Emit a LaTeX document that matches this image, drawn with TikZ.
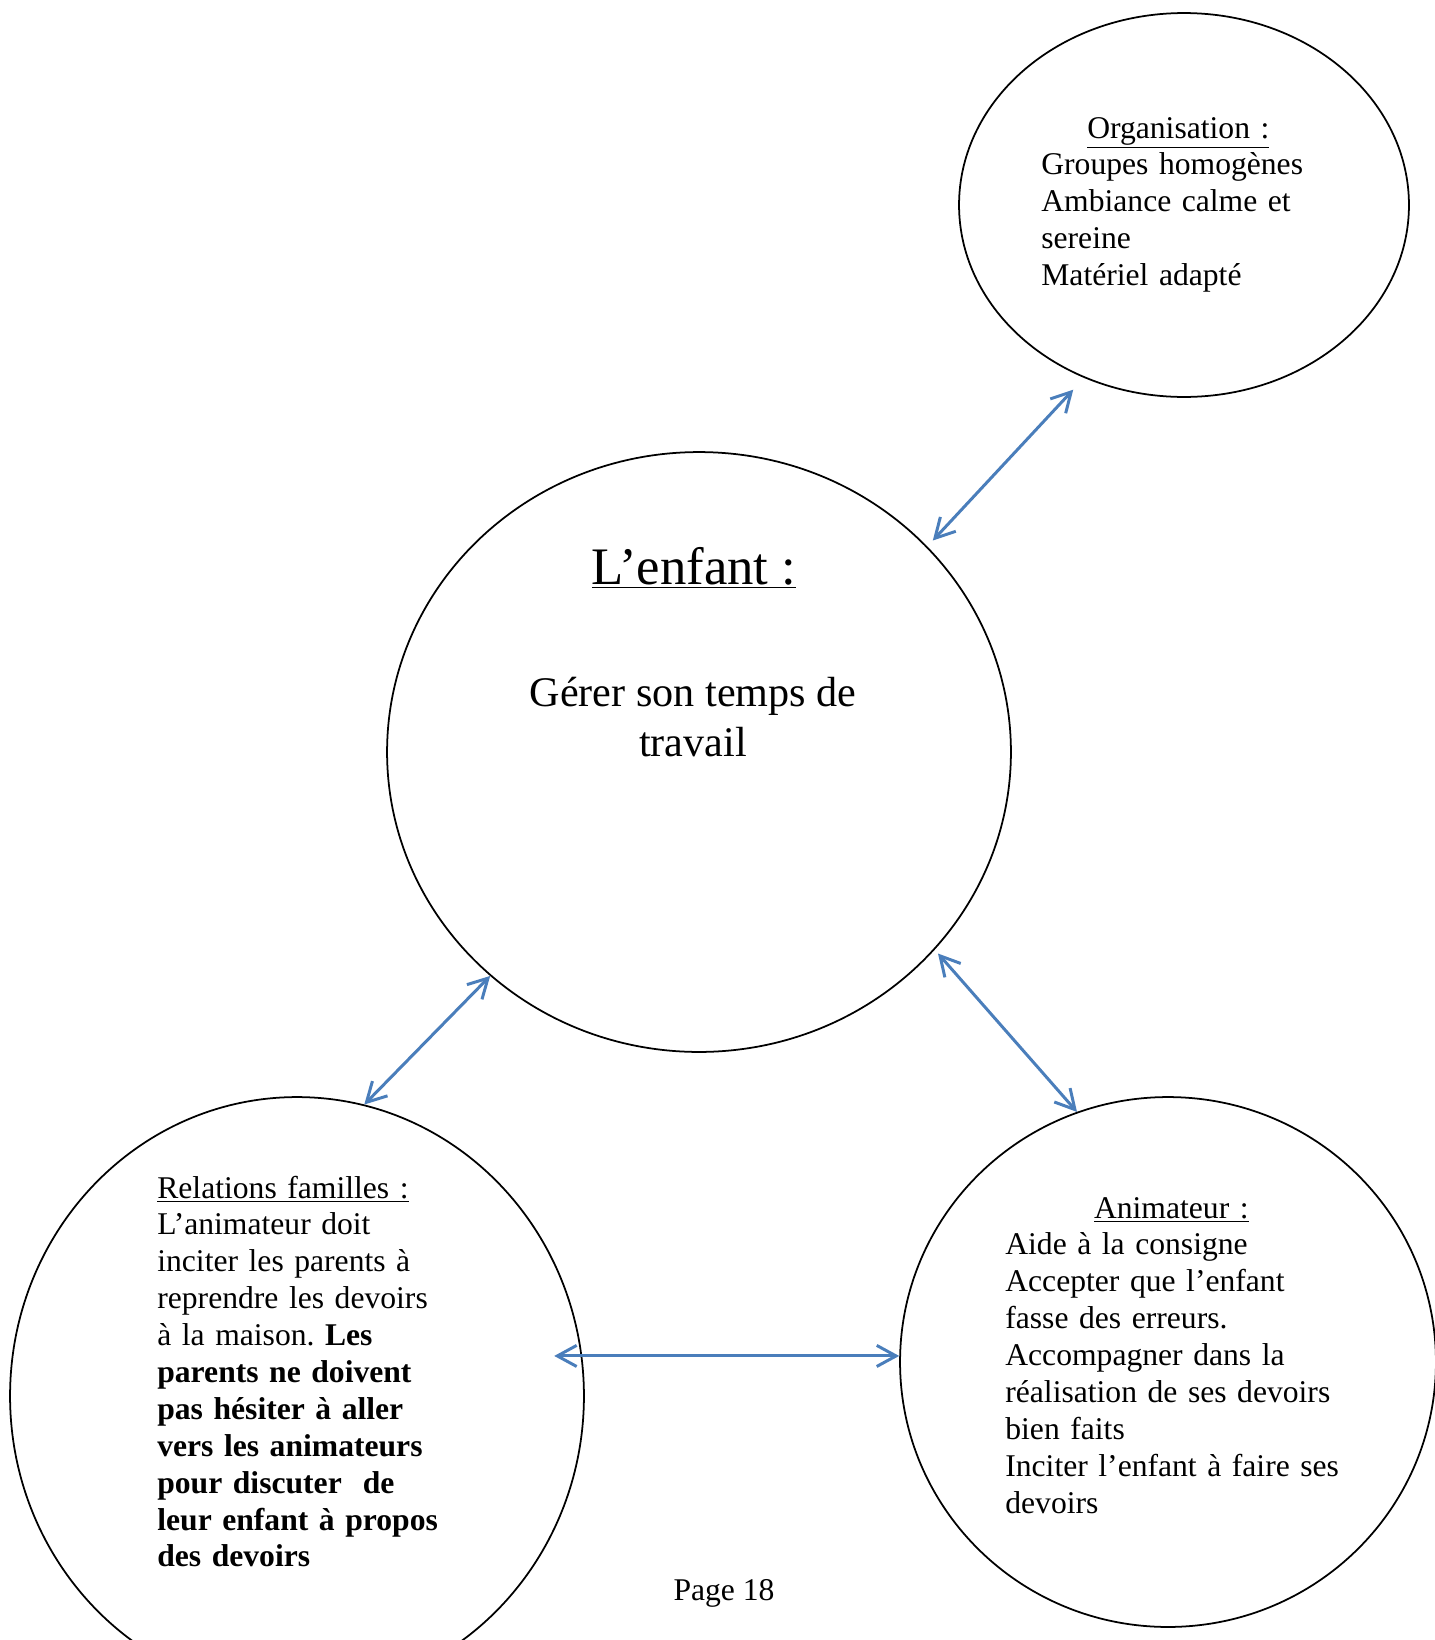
\documentclass[tikz,border=0pt]{standalone}
\usepackage{fontspec}
\setmainfont{Liberation Serif}
\usetikzlibrary{shapes.geometric,arrows.meta}
\definecolor{linkblue}{HTML}{4A7EBB}
\frenchspacing

\begin{document}
\begin{tikzpicture}[x=0.02cm,y=-0.02cm,
                    bubble/.style={draw,ellipse,line width=1pt,inner sep=0pt},
                    link/.style={{Straight Barb[length=11pt,width=12pt]}-{Straight Barb[length=11pt,width=12pt]},linkblue,line width=1.7pt},
                    bubble text/.style={inner sep=0pt,anchor=base west,align=left,font=\fontsize{18}{21}\selectfont}]
    \useasboundingbox (0,0) rectangle (1435,1640);

    \node[bubble,minimum width=9cm,minimum height=7.68cm] (orga) at (1184,205) {};
    \node[bubble,minimum width=12.48cm,minimum height=12cm] (enfant) at (699,752) {};
    \node[bubble,minimum width=11.48cm,minimum height=11.96cm] (famille) at (297,1396) {};
    \node[bubble,minimum width=10.72cm,minimum height=10.6cm] (anim) at (1168,1362) {};

    \node[inner sep=0pt,anchor=base,font=\fontsize{30}{36}\selectfont] (titre) at (694,584) {\underline{L’enfant :}};
    \node[inner sep=0pt,anchor=base,align=center,font=\fontsize{24}{28}\selectfont] (theme) at (693,756) {Gérer son temps de\\travail};

    \node[bubble text,text width=5.48cm] (orga text) at (1041,138)
        {{\centering\underline{Organisation :}\par}Groupes homogènes\\Ambiance calme et\\sereine\\Matériel adapté};
    \node[bubble text,text width=5.9cm] (famille text) at (157,1198)
        {\underline{Relations familles :}\\L’animateur doit\\inciter les parents à\\reprendre les devoirs\\à la maison. \textbf{Les}\\
         {\bfseries parents ne doivent\\pas hésiter à aller\\vers les animateurs\\pour discuter~ de\\leur enfant à propos\\des devoirs}};
    \node[bubble text,text width=7.4cm] (anim text) at (1005,1218)
        {\makebox[6.64cm]{\underline{Animateur :}}\\Aide à la consigne\\Accepter que l’enfant\\fasse des erreurs.\\Accompagner dans la\\réalisation de ses devoirs\\bien faits\\Inciter l’enfant à faire ses\\devoirs};

    \node[inner sep=0pt,anchor=base,font=\fontsize{18}{21}\selectfont] (page) at (724,1600) {Page 18};

    \draw[link,shorten <=0.16cm,shorten >=0.32cm] (enfant.42) -- (orga.-120);
    \draw[link] (famille.77) -- (enfant.-133);
    \draw[link,shorten <=0.1cm] (enfant.-40) -- (anim.110);
    \draw[link,shorten <=-0.56cm] (famille.8) -- (famille.8 -| anim.west);
\end{tikzpicture}
\end{document}
